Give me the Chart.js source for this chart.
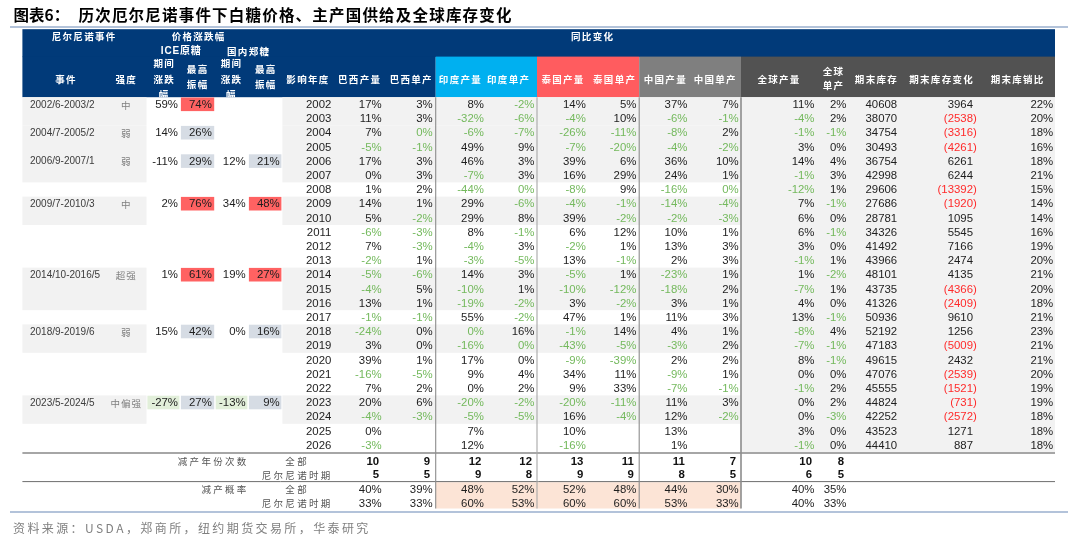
<!DOCTYPE html>
<html><head><meta charset="utf-8">
<script src="https://cdn.jsdelivr.net/npm/chart.js@4.4.1/dist/chart.umd.min.js"></script>
<style>html,body{margin:0;padding:0;background:#fff;overflow:hidden}canvas{display:block}</style>
</head><body>
<canvas id="c" width="1080" height="539" style="width:1080px;height:539px"></canvas>
<script>
// ---------------- DATA ----------------
const years = [2002,2003,2004,2005,2006,2007,2008,2009,2010,2011,2012,2013,2014,2015,2016,2017,2018,2019,2020,2021,2022,2023,2024,2025,2026];
const brazilProd = [17,11,7,-5,17,0,1,14,5,-6,7,-2,-5,-4,13,-1,-24,3,39,-16,7,20,-4,0,-3];
const brazilYield = [3,3,-0.3,-1,3,3,2,1,-2,-3,-3,1,-6,5,1,-1,0,0,1,-5,2,6,-3,null,null];
const indiaProd = [8,-32,-6,49,46,-7,-44,29,29,8,-4,-3,14,-10,-19,55,-0.3,-16,17,9,0,-20,-5,7,12];
const indiaYield = [-2,-6,-7,9,3,3,-0.3,-6,8,-1,3,-5,3,1,-2,-2,16,-0.3,0,4,2,-2,-5,null,null];
const thaiProd = [14,-4,-26,-7,39,16,-8,-4,39,6,-2,13,-5,-10,3,47,-1,-43,-9,34,9,-20,16,10,-16];
const thaiYield = [5,10,-11,-20,6,29,9,-1,-2,12,1,-1,1,-12,-2,1,14,-5,-39,11,33,-11,-4,null,null];
const chinaProd = [37,-6,-8,-4,36,24,-16,-14,-2,10,13,2,-23,-18,3,11,4,-3,2,-9,-7,11,12,13,1];
const chinaYield = [7,-1,2,-2,10,1,-0.3,-4,-3,1,3,3,1,2,1,3,1,2,2,1,-1,3,-2,null,null];
const globalProd = [11,-4,-1,3,14,-1,-12,7,6,6,3,-1,1,-7,4,13,-8,-7,8,0,-1,0,0,3,-1];
const globalYield = [2,2,-1,0,4,3,1,-1,0,-1,0,1,-2,1,0,-1,4,-1,-1,0,2,2,-3,0,0];
const endStock = [40608,38070,34754,30493,36754,42998,29606,27686,28781,34326,41492,43966,48101,43735,41326,50936,52192,47183,49615,47076,45555,44824,42252,43523,44410];
const endStockChange = [3964,-2538,-3316,-4261,6261,6244,-13392,-1920,1095,5545,7166,2474,4135,-4366,-2409,9610,1256,-5009,2432,-2539,-1521,-731,-2572,1271,887];
const stockToUse = [22,20,18,16,18,21,15,14,14,16,19,20,21,20,18,21,23,21,21,20,19,19,18,18,18];

const events = ['2002/6-2003/2','2004/7-2005/2','2006/9-2007/1','2009/7-2010/3','2014/10-2016/5','2018/9-2019/6','2023/5-2024/5'];
const eventStrength = ['中','弱','弱','中','超强','弱','中偏强'];
const eventStartYear = [2002,2004,2006,2009,2014,2018,2023];
const eventEndYear = [2003,2005,2007,2010,2016,2019,2024];
const iceChange = [59,14,-11,2,1,15,-27];
const iceMaxSwing = [74,26,29,76,61,42,27];
const zceChange = [null,null,12,34,19,0,-13];
const zceMaxSwing = [null,null,21,48,27,16,9];

const cutYearsAll = [10,9,12,12,13,11,11,7,10,8];
const cutYearsElNino = [5,5,9,8,9,9,8,5,6,5];
const cutProbAll = [40,39,48,52,52,48,44,30,40,35];
const cutProbElNino = [33,33,60,53,60,60,53,33,40,33];

// ---------------- STYLE / LAYOUT ----------------
const C = {navy:'#013a79', cyan:'#00b0f0', red:'#ff5c5f', cnGray:'#7f7f7f', glGray:'#525252',
  rowGray:'#f2f2f2', hiRed:'#ff6262', hiBlue:'#d6dce4', hiGreen:'#e2efda', peach:'#fce4d6',
  txt:'#1e1e1e', neg:'#74b95d', negRed:'#ff2b2b', sub:'#7f7f7f', evt:'#3c3c3c', vline:'#8c8c8c', rule:'#b3c3da'};
const NUM = "'Liberation Sans', Arial, 'Noto Sans CJK SC', sans-serif";
const CJK = "'Noto Sans CJK SC', 'Liberation Sans', sans-serif";
const HI = {iceChange:[0,0,0,0,0,0,'g'], iceMaxSwing:['r','b','b','r','r','b','b'],
            zceChange:[0,0,0,0,0,0,'g'], zceMaxSwing:[0,0,'b','r','r','b','b']};
const L = {
  tableL:22.4, tableR:1055, ruleL:10, ruleR:1068,
  titleY:15.5, ruleTopY:27, headTop:29.2, headSplit:57.1, headBot:97.2, rowH:14.2,
  footLine1:453, footRows:[461.4,474.9,489.8,503.4], footLine2:481.6, footBot:508.5, ruleBotY:512, srcY:528,
  priceEdges:[146.5,180,214.8,248,282], priceRight:[178,211.8,245.6,279.7],
  vlines:[435.7,537,639.2,741],
  sec:[[22.4,435.7,'navy'],[435.7,537,'cyan'],[537,639.2,'red'],[639.2,741,'cnGray'],[741,1055,'glGray']],
  colR:{year:331.3,bp:381.6,bu:432.6,ip:483.9,iu:534.5,tp:585.8,tu:636.4,cp:687.4,cu:738.7,gp:814.5,gu:846.5,inv:897.2,chg:973,ratio:1053.2},
  eventX:30, strengthX:125.7, globalL:741
};
const rowTop = i => L.headBot + i*L.rowH;
const rowMid = i => rowTop(i) + L.rowH/2 + 0.6;
const yIdx = y => years.indexOf(y);

// ---------------- DATASETS ----------------
function colDS(key, vals, kind){
  return {label:key, kind, data: vals.map((v,i)=> v==null?null:{x:L.colR[key], y:rowMid(i), v}).filter(Boolean)};
}
const seriesKeys = ['bp','bu','ip','iu','tp','tu','cp','cu','gp','gu'];
function footDS(label, vals, row, kind, dx){
  return {label, kind, data: vals.map((v,j)=>({x:L.colR[seriesKeys[j]]+dx, y:L.footRows[row], v}))};
}
function priceDS(label, vals, col){
  return {label, kind:'price', data: vals.map((v,k)=> v==null?null:{x:L.priceRight[col], y:rowMid(yIdx(eventStartYear[k])), v}).filter(Boolean)};
}
const datasets = [
  colDS('year', years, 'year'),
  colDS('bp', brazilProd, 'pct'), colDS('bu', brazilYield, 'pct'),
  colDS('ip', indiaProd, 'pct'), colDS('iu', indiaYield, 'pct'),
  colDS('tp', thaiProd, 'pct'), colDS('tu', thaiYield, 'pct'),
  colDS('cp', chinaProd, 'pct'), colDS('cu', chinaYield, 'pct'),
  colDS('gp', globalProd, 'pct'), colDS('gu', globalYield, 'pct'),
  colDS('inv', endStock, 'int'), colDS('chg', endStockChange, 'chg'), colDS('ratio', stockToUse, 'pct'),
  {label:'event', kind:'event', data: events.map((s,k)=>({x:L.eventX, y:rowMid(yIdx(eventStartYear[k])), v:s}))},
  {label:'strength', kind:'strength', data: eventStrength.map((s,k)=>({x:L.strengthX, y:rowMid(yIdx(eventStartYear[k])), v:s}))},
  priceDS('iceChange', iceChange, 0), priceDS('iceMaxSwing', iceMaxSwing, 1),
  priceDS('zceChange', zceChange, 2), priceDS('zceMaxSwing', zceMaxSwing, 3),
  footDS('cntAll', cutYearsAll, 0, 'count', -2.5), footDS('cntEl', cutYearsElNino, 1, 'count', -2.5),
  footDS('probAll', cutProbAll, 2, 'pctPlain', 0), footDS('probEl', cutProbElNino, 3, 'pctPlain', 0)
];
datasets.forEach(d=>{d.pointRadius=0; d.pointHoverRadius=0; d.borderWidth=0;});

// ---------------- DRAW HELPERS ----------------
function txt(ctx, s, x, y, o){
  ctx.save();
  ctx.font = o.font; ctx.fillStyle = o.color; ctx.textBaseline = 'middle';
  const sp = o.sp || 0;
  if(!sp){ ctx.textAlign = o.align || 'left'; ctx.fillText(s, x, y); }
  else {
    const ch = [...s]; const ws = ch.map(c=>ctx.measureText(c).width);
    const tot = ws.reduce((a,b)=>a+b,0) + sp*(ch.length-1);
    let sx = o.align==='center' ? x-tot/2 : o.align==='right' ? x-tot : x;
    ctx.textAlign = 'left';
    ch.forEach((c,i)=>{ ctx.fillText(c, sx, y); sx += ws[i] + sp; });
  }
  ctx.restore();
}
const pctStr = v => { const r = Math.round(v); return (r===0?0:r) + '%'; };

const tablePlugin = {
  id:'table',
  beforeDatasetsDraw(chart){
    const ctx = chart.ctx, X = v=>chart.scales.x.getPixelForValue(v), Y = v=>chart.scales.y.getPixelForValue(v);
    const rect = (x1,y1,x2,y2,col)=>{ ctx.fillStyle = col; ctx.fillRect(X(x1), Y(y1), X(x2)-X(x1), Y(y2)-Y(y1)); };
    const hline = (x1,x2,y,col,w)=>{ ctx.save(); ctx.strokeStyle=col; ctx.lineWidth=w; ctx.beginPath(); ctx.moveTo(X(x1),Y(y)); ctx.lineTo(X(x2),Y(y)); ctx.stroke(); ctx.restore(); };
    const vline = (x,y1,y2,col,w)=>{ ctx.save(); ctx.strokeStyle=col; ctx.lineWidth=w; ctx.beginPath(); ctx.moveTo(X(x),Y(y1)); ctx.lineTo(X(x),Y(y2)); ctx.stroke(); ctx.restore(); };
    // title
    txt(ctx, '图表6：', X(13.5), Y(L.titleY), {font:`bold 15.5px ${CJK}`, color:'#000'});
    txt(ctx, '历次厄尔尼诺事件下白糖价格、主产国供给及全球库存变化', X(78.5), Y(L.titleY), {font:`bold 15.5px ${CJK}`, color:'#000', sp:1.2});
    hline(L.ruleL, L.ruleR, L.ruleTopY, C.rule, 2);
    // header fills
    rect(L.tableL, L.headTop, L.tableR, L.headSplit, C.navy);
    L.sec.forEach(s=>rect(s[0], L.headSplit-0.5, s[1], L.headBot, C[s[2]]));
    // body fills
    const bodyEnd = rowTop(years.length);
    rect(L.globalL, L.headBot, L.tableR, bodyEnd, C.rowGray);
    eventStartYear.forEach((sy,k)=>{
      const t = rowTop(yIdx(sy)), b = rowTop(yIdx(eventEndYear[k])+1);
      rect(L.tableL, t, L.priceEdges[0], b, C.rowGray);
      rect(L.priceEdges[4]+0.4, t, L.globalL, b, C.rowGray);
    });
    // highlight cells
    ['iceChange','iceMaxSwing','zceChange','zceMaxSwing'].forEach((key,col)=>{
      HI[key].forEach((h,k)=>{
        if(!h) return;
        const r = yIdx(eventStartYear[k]);
        const colr = h==='r'?C.hiRed:h==='b'?C.hiBlue:C.hiGreen;
        rect(L.priceEdges[col]+0.9, rowTop(r)+0.3, L.priceEdges[col+1]-0.6, rowTop(r+1)-0.3, colr);
      });
    });
    // footer
    rect(L.vlines[0], L.footLine2+0.6, L.vlines[3], L.footBot, C.peach);
    hline(L.tableL, L.tableR, L.footLine1, '#a6a6a6', 2);
    hline(L.tableL, L.tableR, L.footLine2, '#6e6e6e', 1);
    L.vlines.forEach((x,i)=>vline(x, L.headBot, L.footBot, i===1?'#a8a8a8':C.vline, i===3?1.6:1.1));
    hline(L.ruleL, L.ruleR, L.ruleBotY, C.rule, 2);
    // footer labels
    const fl = {font:`9.5px ${CJK}`, color:'#555', sp:2.3};
    txt(ctx, '减产年份次数', X(246.3), Y(L.footRows[0]), {...fl, align:'right'});
    txt(ctx, '减产概率', X(246.3), Y(L.footRows[2]), {...fl, align:'right'});
    txt(ctx, '全部', X(296), Y(L.footRows[0]), {...fl, align:'center'});
    txt(ctx, '尼尔尼诺时期', X(296), Y(L.footRows[1]), {...fl, align:'center'});
    txt(ctx, '全部', X(296), Y(L.footRows[2]), {...fl, align:'center'});
    txt(ctx, '尼尔尼诺时期', X(296), Y(L.footRows[3]), {...fl, align:'center'});
    // source
    txt(ctx, '资料来源：USDA，郑商所，纽约期货交易所，华泰研究', X(13), Y(L.srcY), {font:`12px ${CJK}`, color:'#808080', sp:2.4});
    // header text
    ctx.save();
    ctx.beginPath(); ctx.rect(X(L.tableL), Y(L.headTop), X(L.tableR)-X(L.tableL), Y(L.headBot)-Y(L.headTop)); ctx.clip();
    const hf = {font:`bold 9.5px ${CJK}`, color:'#fff', sp:1.3, align:'center'};
    const H = (s,x,y)=>txt(ctx, s, X(x), Y(y), hf);
    H('尼尔尼诺事件', 83.5, 36.3); H('价格涨跌幅', 198, 36.3); H('同比变化', 592, 36.3);
    txt(ctx, 'ICE原糖', X(180.8), Y(51), {...hf, font:`bold 10px ${NUM}`, sp:0.8});
    H('国内郑糖', 248, 51);
    const y1 = 79.6;
    H('事件', 65.4, y1); H('强度', 125.7, y1);
    [163.6, 230.8].forEach(x=>{ H('期间', x, 63.8); H('涨跌', x, 79.4); H('幅', x, 94.6); });
    [197, 265.2].forEach(x=>{ H('最高', x, 69); H('振幅', x, 84); });
    H('影响年度', 307.3, y1); H('巴西产量', 359, y1); H('巴西单产', 410.6, y1);
    H('印度产量', 459.8, y1); H('印度单产', 508, y1);
    H('泰国产量', 562.4, y1); H('泰国单产', 614, y1);
    H('中国产量', 664.7, y1); H('中国单产', 714.6, y1);
    H('全球产量', 778.4, y1); H('全球', 832.8, 71.6); H('单产', 832.8, 85.7);
    H('期末库存', 875.8, y1); H('期末库存变化', 941, y1); H('期末库销比', 1017, y1);
    ctx.restore();
  },
  afterDatasetsDraw(chart){
    const ctx = chart.ctx;
    const nf = `11.4px ${NUM}`;
    chart.data.datasets.forEach((ds, di)=>{
      const meta = chart.getDatasetMeta(di);
      meta.data.forEach((el, j)=>{
        const d = ds.data[j], x = el.x, y = el.y, v = d.v;
        switch(ds.kind){
          case 'year': txt(ctx, String(v), x, y, {font:nf, color:C.txt, align:'right'}); break;
          case 'pct': txt(ctx, pctStr(v), x, y, {font:nf, color: v<0?C.neg:C.txt, align:'right'}); break;
          case 'int': txt(ctx, String(v), x, y, {font:nf, color:C.txt, align:'right'}); break;
          case 'chg': {
            if(v<0){ ctx.save(); ctx.font=nf; const w=ctx.measureText(')').width; ctx.restore();
              txt(ctx, '('+Math.abs(v)+')', x+w, y, {font:nf, color:C.negRed, align:'right'}); }
            else txt(ctx, String(v), x, y, {font:nf, color:C.txt, align:'right'});
            break; }
          case 'event': txt(ctx, v, x, y, {font:`10px ${NUM}`, color:C.evt}); break;
          case 'strength': txt(ctx, v, x, y, {font:`9.5px ${CJK}`, color:C.sub, align:'center', sp:1}); break;
          case 'price': txt(ctx, pctStr(v), x, y, {font:nf, color:C.txt, align:'right'}); break;
          case 'count': txt(ctx, String(v), x, y, {font:`bold 11.4px ${NUM}`, color:'#111', align:'right'}); break;
          case 'pctPlain': txt(ctx, pctStr(v), x, y, {font:nf, color:C.txt, align:'right'}); break;
        }
      });
    });
  }
};

new Chart(document.getElementById('c'), {
  type:'scatter',
  data:{datasets},
  options:{
    responsive:false, animation:false, events:[],
    layout:{padding:0},
    plugins:{legend:{display:false}, tooltip:{enabled:false}},
    scales:{
      x:{type:'linear', min:0, max:1080, display:false},
      y:{type:'linear', min:0, max:539, reverse:true, display:false}
    }
  },
  plugins:[tablePlugin]
});
</script>
</body></html>
